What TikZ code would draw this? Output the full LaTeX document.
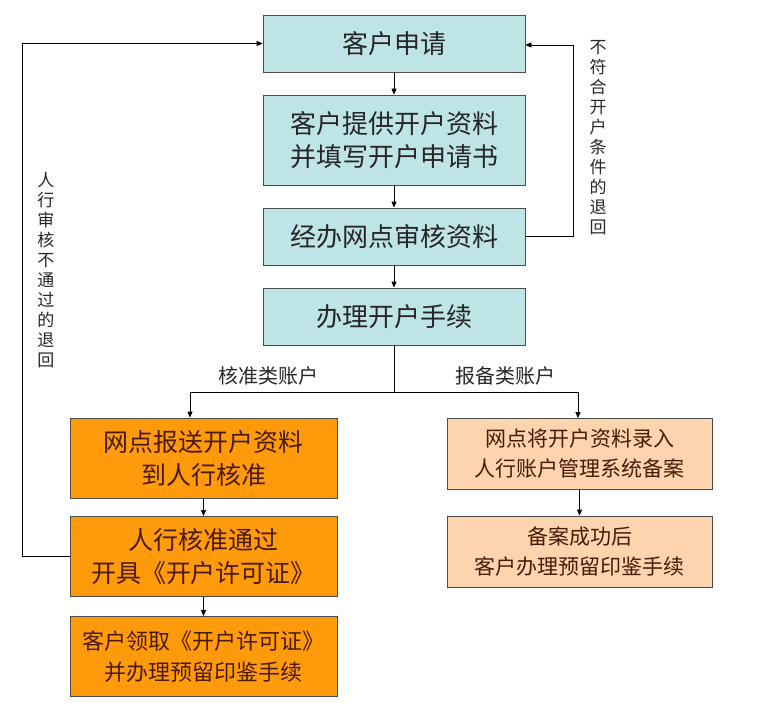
\documentclass[tikz,border=0pt]{standalone}
\usepackage{fontspec}
\setmainfont{Noto Sans CJK SC}
\usetikzlibrary{arrows.meta}
\definecolor{bluebox}{HTML}{BFE4E6}
\definecolor{orangebox}{HTML}{FF9A0A}
\definecolor{paleorange}{HTML}{FCD5AE}
\definecolor{txt}{HTML}{4A1A08}
\begin{document}
\begin{tikzpicture}[x=1pt,y=-1pt,
  base/.style={draw=black!70,line width=0.8pt,align=center,inner sep=0pt},
  bbox/.style={base,fill=bluebox,minimum width=262pt,font=\fontsize{26}{33}\selectfont,text=black!85},
  obox/.style={base,fill=orangebox,minimum width=267pt,minimum height=80pt,font=\fontsize{25}{33}\selectfont,text=txt},
  pbox/.style={base,fill=paleorange,minimum width=265pt,minimum height=71pt,font=\fontsize{21}{30}\selectfont,text=txt},
  arr/.style={-{Triangle[length=6pt,width=5pt]},line width=0.8pt},
  lnk/.style={line width=0.8pt},
  lbl/.style={font=\fontsize{20}{24}\selectfont,text=black!85},
  vlbl/.style={font=\fontsize{17}{20}\selectfont,align=center,text=black!85}]
\useasboundingbox (0,0) rectangle (764,709);
\node[bbox,minimum height=57pt] (b1) at (394,43.5) {客户申请};
\node[bbox,minimum height=90pt] (b2) at (394,140) {客户提供开户资料\\并填写开户申请书};
\node[bbox,minimum height=57pt] (b3) at (394,236.5) {经办网点审核资料};
\node[bbox,minimum height=57pt] (b4) at (394,316.5) {办理开户手续};
\node[obox] (a1) at (203.5,458) {网点报送开户资料\\到人行核准};
\node[obox] (a2) at (203.5,556.5) {人行核准通过\\开具《开户许可证》};
\node[obox,font=\fontsize{22}{31}\selectfont] (a3) at (203.5,656.5) {客户领取《开户许可证》\\并办理预留印鉴手续};
\node[pbox] (p1) at (579.5,454) {网点将开户资料录入\\人行账户管理系统备案};
\node[pbox] (p2) at (579.5,551.5) {备案成功后\\客户办理预留印鉴手续};
\draw[arr] (b1) -- (b2);
\draw[arr] (b2) -- (b3);
\draw[arr] (b3) -- (b4);
\coordinate (sp) at (394,392);
\coordinate (sl) at (190,392);
\coordinate (sr) at (578,392);
\draw[lnk] (b4.south) -- (sp);
\draw[lnk] (sl) -- (sr);
\draw[arr] (sl) -- (sl|-a1.north);
\draw[arr] (sr) -- (sr|-p1.north);
\draw[arr] (a1) -- (a2);
\draw[arr] (a2) -- (a3);
\draw[arr] (p1) -- (p2);
\node[lbl] (l1) at (268,376) {核准类账户};
\node[lbl] (l2) at (505,376) {报备类账户};
\coordinate (lc1) at (22,556.5);
\coordinate (lc2) at (22,43.5);
\draw[arr] (a2.west) -- (lc1) -- (lc2) -- (b1.west);
\coordinate (rc1) at (573,236.5);
\coordinate (rc2) at (573,45);
\draw[arr] (b3.east) -- (rc1) -- (rc2) -- (b1.east|-rc2);
\node[vlbl] (v1) at (46,270) {人\\行\\审\\核\\不\\通\\过\\的\\退\\回};
\node[vlbl] (v2) at (598,138) {不\\符\\合\\开\\户\\条\\件\\的\\退\\回};
\end{tikzpicture}
\end{document}
